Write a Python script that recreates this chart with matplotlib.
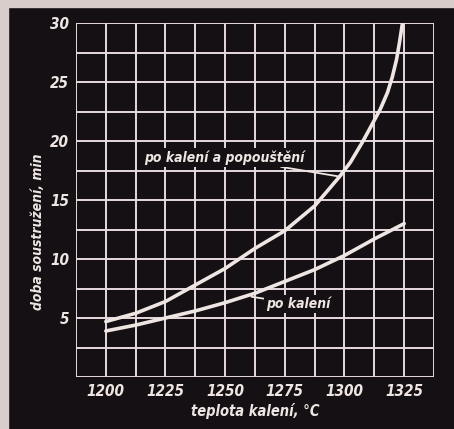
import matplotlib
matplotlib.use("Agg")
import matplotlib.pyplot as plt
from matplotlib.patches import Rectangle

# teplota kaleni (C) a doba soustruzeni (min)
t_popousteni = [1200, 1212.5, 1225, 1237.5, 1250, 1262.5, 1275, 1287.5, 1298,
                1302.5, 1307.5, 1311, 1315, 1318, 1320, 1321.8, 1323, 1324.3]
doba_popousteni = [4.7, 5.4, 6.4, 7.8, 9.2, 10.9, 12.4, 14.5, 17.0,
                   18.2, 19.9, 21.2, 22.7, 24.1, 25.4, 26.9, 28.3, 30.0]

t_kaleni = [1200, 1212.5, 1225, 1237.5, 1250, 1262.5, 1275, 1287.5, 1300, 1312.5, 1325]
doba_kaleni = [3.9, 4.4, 5.0, 5.6, 6.3, 7.1, 8.1, 9.1, 10.3, 11.7, 13.0]

x_ticks = [1200, 1225, 1250, 1275, 1300, 1325]
y_ticks = [5, 10, 15, 20, 25, 30]

bg = "#151013"
fg = "#efe6e4"
grid_c = "#e6dade"
txt = dict(family="DejaVu Sans", stretch="condensed", style="italic", weight="bold")

fig = plt.figure(figsize=(4.54, 4.29), dpi=100, facecolor=bg)
# svetly okraj skenu
fig.patches.append(Rectangle((0, 0), 8 / 454, 1, transform=fig.transFigure,
                             color="#d8cdca", zorder=-1))
fig.patches.append(Rectangle((0, 1 - 7 / 429), 1, 7 / 429, transform=fig.transFigure,
                             color="#d8cdca", zorder=-1))

ax = fig.add_axes([76 / 454, 52 / 429, 358 / 454, 354 / 429])
ax.set_facecolor(bg)
ax.set_xlim(1187.5, 1337.5)
ax.set_ylim(0, 30)

for i in range(13):
    ax.axvline(1187.5 + 12.5 * i, color=grid_c, lw=1.4, zorder=1)
    ax.axhline(2.5 * i, color=grid_c, lw=1.4, zorder=1)

ax.plot(t_popousteni, doba_popousteni, color=fg, lw=2.6, zorder=3,
        solid_capstyle="round", solid_joinstyle="round")
ax.plot(t_kaleni, doba_kaleni, color=fg, lw=2.6, zorder=3,
        solid_capstyle="round", solid_joinstyle="round")

for s in ax.spines.values():
    s.set_visible(False)
ax.set_xticks(x_ticks)
ax.set_yticks(y_ticks)
ax.tick_params(length=0, colors=fg, pad=5)
for lab in ax.get_xticklabels() + ax.get_yticklabels():
    lab.set_family(txt["family"])
    lab.set_stretch(txt["stretch"])
    lab.set_style(txt["style"])
    lab.set_weight(txt["weight"])
    lab.set_fontsize(11)

ax.set_xlabel("teplota kalení, °C", fontsize=10.5, color=fg, labelpad=3, **txt)
ax.set_ylabel("doba soustružení, min", fontsize=10, color=fg, **txt)
ax.yaxis.set_label_coords(-0.087, 0.41)

# popisky krivek
ax.annotate("po kalení a popouštění", xy=(1297.5, 17.0), xytext=(1283.4, 18.6),
            ha="right", va="center", fontsize=10, color=fg, zorder=4,
            bbox=dict(boxstyle="square,pad=0.15", fc=bg, ec="none"),
            arrowprops=dict(arrowstyle="-", color=fg, lw=1.3, shrinkA=0, shrinkB=0),
            **txt)
ax.annotate("po kalení", xy=(1261, 6.8), xytext=(1267, 6.2),
            ha="left", va="center", fontsize=10, color=fg, zorder=4,
            bbox=dict(boxstyle="square,pad=0.15", fc=bg, ec="none"),
            arrowprops=dict(arrowstyle="-", color=fg, lw=1.3, shrinkA=0, shrinkB=0),
            **txt)

fig.savefig("out.png", dpi=100, facecolor=bg)
